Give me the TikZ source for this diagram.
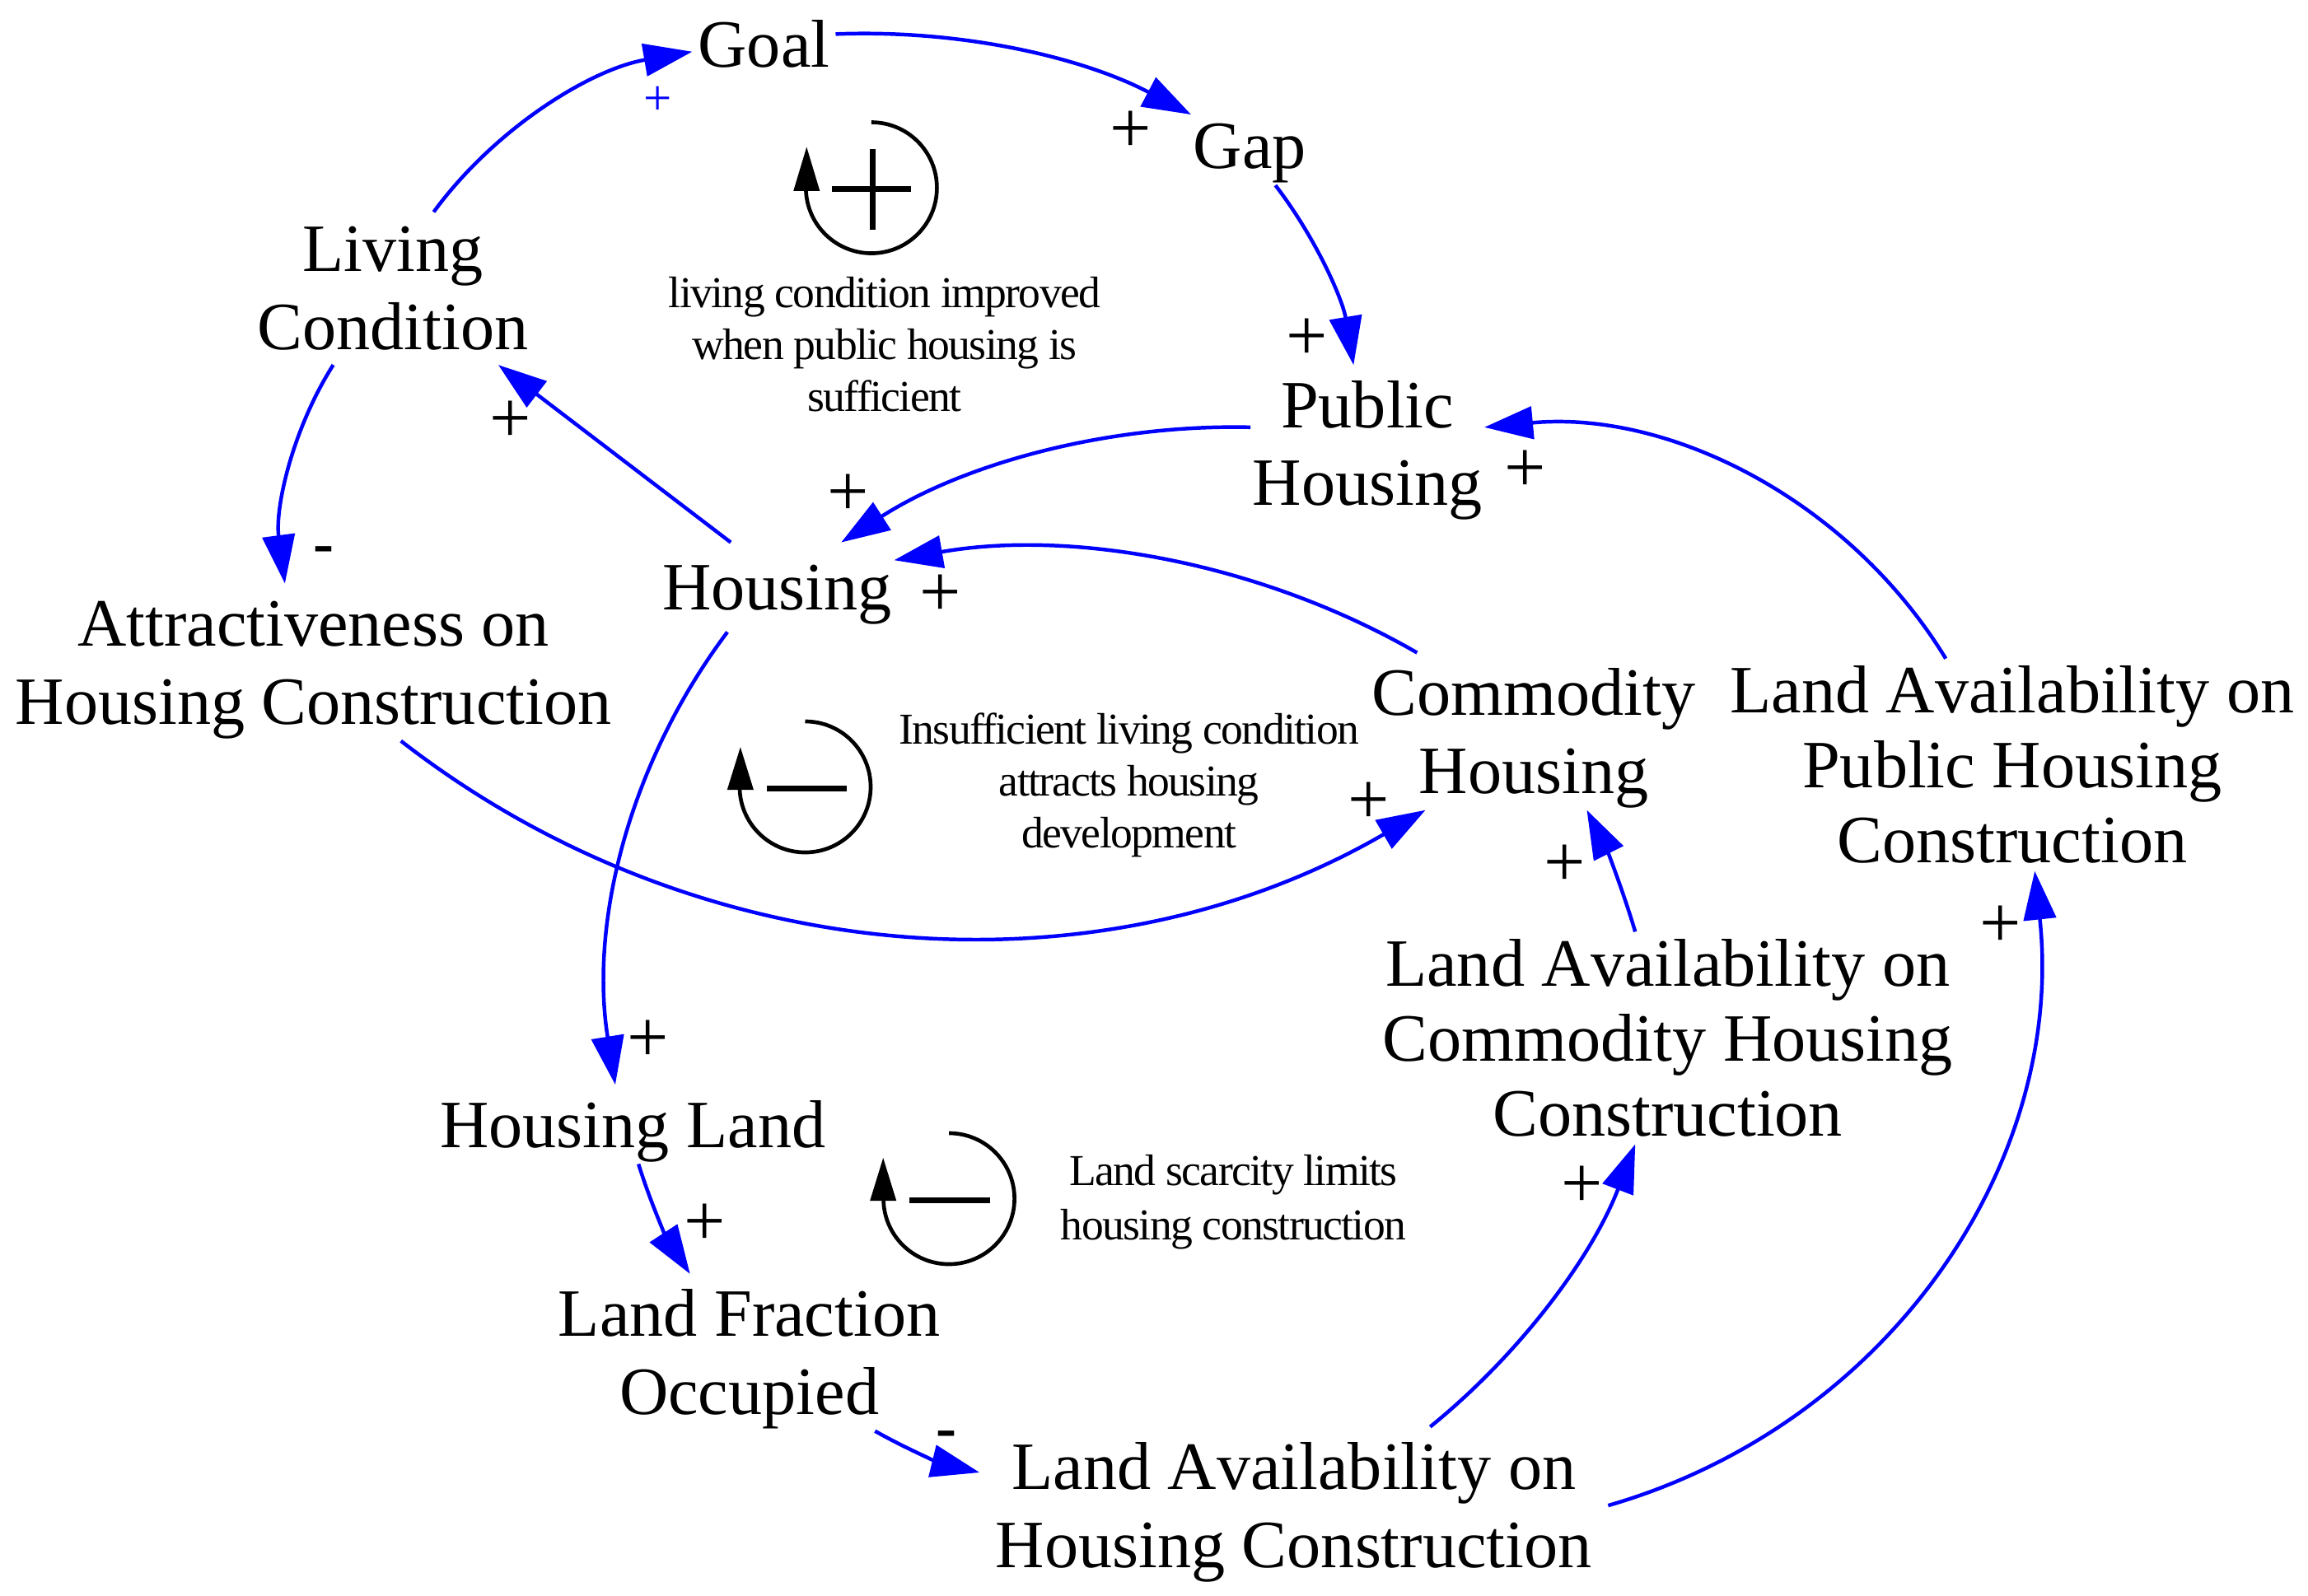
\documentclass[tikz,border=0pt]{standalone}
\usepackage{fontspec}
\setmainfont[Kerning=Off]{Liberation Serif}
\newfontfamily\notefont[LetterSpace=-3.0]{Liberation Serif}
\usetikzlibrary{arrows.meta}
\definecolor{linkblue}{RGB}{0,0,255}
\newcommand{\lift}{\rule{0pt}{41pt}}
\tikzset{
  var/.style={align=center,inner sep=1pt,outer sep=0.5pt,font=\fontsize{46}{53}\selectfont},
  longvar/.style={var,outer ysep=4pt,font=\fontsize{46}{51}\selectfont},
  note/.style={align=center,inner sep=0pt,font=\fontsize{30}{35.2}\selectfont\notefont},
  pol/.style={inner sep=0pt,yshift=-2.5pt,font=\fontsize{50}{50}\selectfont},
  neg/.style={inner sep=0pt,yshift=-5pt,font=\fontsize{42}{50}\selectfont\bfseries},
  link/.style={draw=linkblue,line width=2.5pt,looseness=0.87,-{Triangle[length=33pt,width=22pt,fill=linkblue]}},
  loopline/.style={line width=2.6pt}
}
\begin{document}
\begin{tikzpicture}[x=1pt,y=-1pt]
  \useasboundingbox (0,0) rectangle (1568,1083.96);

  \node[var,outer xsep=3pt] (goal) at (519,30) {Goal};
  \node[var] (gap) at (849,99) {\lift Gap};
  \node[var,outer ysep=9pt] (living) at (267,196) {Living\\Condition};
  \node[var] (public) at (929,301.5) {\lift Public\\Housing};
  \node[var,outer ysep=4pt] (housing) at (528,399) {\lift Housing};
  \node[var] (attract) at (213,450) {\lift Attractiveness on\\Housing Construction};
  \node[var] (commodity) at (1042,497) {\lift Commodity\\Housing};
  \node[longvar] (landpublic) at (1367,519.7) {Land Availability on\\Public Housing\\Construction};
  \node[longvar] (landcomm) at (1133,705.3) {Land Availability on\\Commodity Housing\\Construction};
  \node[var] (hland) at (430,764) {\lift Housing Land};
  \node[var] (fraction) at (509,919) {\lift Land Fraction\\Occupied};
  \node[var,outer xsep=10pt] (landhouse) at (879,1023) {\lift Land Availability on\\Housing Construction};

  \node[note] (notea) at (601,234) {living condition improved\\when public housing is\\sufficient};
  \node[note] (noteb) at (767,533.5) {Insufficient living condition\\attracts housing\\development};
  \node[note,font=\fontsize{30}{37}\selectfont\notefont] (notec) at (838,816.7) {Land scarcity limits\\housing construction};

  % links
  \draw[link] (living.62) to[bend left=22] (goal.186);
  \draw[link] (goal.8) to[bend left=15] (gap.152);
  \draw[link] (gap.-57) to[bend left=14] (public.100);
  \draw[link] (public.172) to[bend right=17] (housing.35);
  \draw[link] (commodity.146) to[bend right=20] (housing.13);
  \draw[link] (housing.136) -- (living.-36);
  \draw[link] (living.232) to[bend right=20] (attract.110);
  \draw[link,looseness=0.94] (attract.-42) to[bend right=34] (commodity.216);
  \draw[link,looseness=0.9] (housing.222) to[bend right=23] (hland.114);
  \draw[link] (hland.-82) to[bend right=8] (fraction.127);
  \draw[link] (fraction.-32) to[bend right=8] (landhouse.174);
  \draw[link] (landhouse.30) to[bend right=15] (landcomm.253);
  \draw[link,looseness=0.98] (landhouse.east) to[bend right=40] (landpublic.-78);
  \draw[link] (landcomm.107) to[bend right=5] (commodity.-56);
  \draw[link,looseness=0.92] (landpublic.122) to[bend right=32] (public.8);

  % polarity
  \node[pol,text=linkblue,font=\fontsize{34}{34}\selectfont] (p1) at (447,66) {+};
  \node[pol] (p2) at (768,87) {+};
  \node[pol] (p3) at (888,228) {+};
  \node[pol] (p4) at (347,284) {+};
  \node[pol] (p5) at (576,334) {+};
  \node[pol] (p6) at (1036,318) {+};
  \node[pol] (p7) at (639,402) {+};
  \node[pol] (p8) at (930,543) {+};
  \node[pol] (p9) at (1063,586) {+};
  \node[pol] (p10) at (1359,627) {+};
  \node[pol] (p11) at (440,705) {+};
  \node[pol] (p12) at (479,830) {+};
  \node[pol] (p13) at (1075,804) {+};
  \node[neg] (m1) at (220,372) {-};
  \node[neg] (m2) at (643,973) {-};

  % loops
  \begin{scope}[shift={(592,127.6)}]
    \draw[loopline] (0,-44.5) arc[start angle=90,end angle=-180,radius=44.5pt];
    \fill (-44,-27.7) -- (-35,2.2) -- (-53,2.2) -- cycle;
    \draw[line width=4pt] (-27,1) -- (27,1);
    \draw[line width=3.6pt] (1,-26.5) -- (1,28.5);
  \end{scope}
  \begin{scope}[shift={(547,534.7)}]
    \draw[loopline] (0,-44.5) arc[start angle=90,end angle=-180,radius=44.5pt];
    \fill (-44,-27) -- (-35,2) -- (-53,2) -- cycle;
    \draw[line width=4pt] (-26,1) -- (28,1);
  \end{scope}
  \begin{scope}[shift={(644.7,814.5)}]
    \draw[loopline] (0,-44.5) arc[start angle=90,end angle=-180,radius=44.5pt];
    \fill (-44.7,-27.7) -- (-35.7,1.5) -- (-53.7,1.5) -- cycle;
    \draw[line width=4pt] (-27,1) -- (28,1);
  \end{scope}
\end{tikzpicture}
\end{document}
